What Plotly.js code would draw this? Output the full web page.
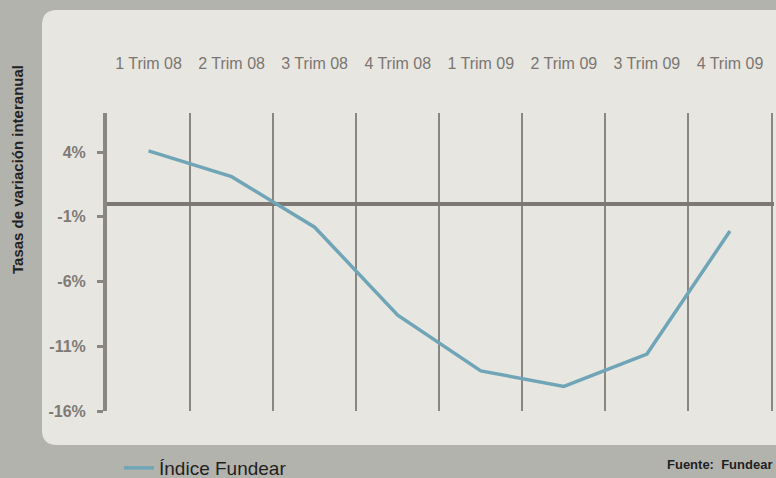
<!DOCTYPE html>
<html>
<head>
<meta charset="utf-8">
<script src="https://cdn.plot.ly/plotly-3.0.1.min.js"></script>
<style>html,body{margin:0;padding:0;background:#b3b3ae;}#chart{width:776px;height:478px;}</style>
</head>
<body>
<div id="chart"></div>
<script>
var quarters = ["1 Trim 08","2 Trim 08","3 Trim 08","4 Trim 08","1 Trim 09","2 Trim 09","3 Trim 09","4 Trim 09"];
var fundear = [4.1, 2.1, -1.8, -8.6, -12.9, -14.1, -11.6, -2.1];
var yTickVals = [4, -1, -6, -11, -16];
var yTickText = ["4%", "-1%", "-6%", "-11%", "-16%"];

var W = 776, H = 478;
var mL = 107, mR = 2, mT = 113, mB = 67;
var pw = W - mL - mR, ph = H - mT - mB;
function px(x){ return (x - mL) / pw; }
function py(y){ return (H - mB - y) / ph; }

// rounded panel path (pixel -> paper)
var L = 42, T = 10, R = 820, B = 445, r = 15;
var panel = "M " + px(L + r) + "," + py(T) +
  " L " + px(R) + "," + py(T) +
  " L " + px(R) + "," + py(B) +
  " L " + px(L + r) + "," + py(B) +
  " Q " + px(L) + "," + py(B) + " " + px(L) + "," + py(B - r) +
  " L " + px(L) + "," + py(T + r) +
  " Q " + px(L) + "," + py(T) + " " + px(L + r) + "," + py(T) + " Z";

var trace = {
  x: quarters, y: fundear, type: "scatter", mode: "lines",
  name: "Índice Fundear",
  line: {color: "#70a5b7", width: 3.5},
  hoverinfo: "x+y"
};

var layout = {
  width: W, height: H,
  margin: {l: mL, r: mR, t: mT, b: mB, pad: 0, autoexpand: false},
  paper_bgcolor: "#b3b3ae",
  plot_bgcolor: "rgba(0,0,0,0)",
  font: {family: "Arial, 'Liberation Sans', sans-serif", color: "#7a7671"},
  showlegend: true,
  legend: {
    orientation: "h", x: px(119), xanchor: "left", y: py(468), yanchor: "middle",
    font: {size: 19, color: "#1f1f1f"}, bgcolor: "rgba(0,0,0,0)"
  },
  xaxis: {
    type: "category", side: "top", tickson: "boundaries",
    showgrid: true, gridcolor: "#8a8682", gridwidth: 2,
    ticks: "", showline: false, zeroline: false,
    tickfont: {size: 16, color: "#7a7671"},
    ticklabelstandoff: 40,
    range: [-0.5, 7.53], fixedrange: true
  },
  yaxis: {
    range: [-16, 7.02], tickvals: yTickVals, ticktext: yTickText,
    showgrid: false, zeroline: true, zerolinecolor: "#7d7873", zerolinewidth: 4,
    showline: true, linecolor: "#8a8682", linewidth: 4,
    ticks: "outside", ticklen: 6, tickwidth: 3, tickcolor: "#8a8682",
    tickfont: {size: 16, color: "#7e7a76", weight: "bold"},
    ticklabelstandoff: 8,
    fixedrange: true
  },
  shapes: [{
    type: "path", xref: "paper", yref: "paper", path: panel,
    fillcolor: "#e8e6e1", line: {width: 0}, layer: "below"
  }],
  annotations: [
    {
      text: "Tasas de variación interanual", textangle: -90,
      xref: "paper", yref: "paper", x: px(17), y: py(170),
      xanchor: "center", yanchor: "middle", showarrow: false,
      font: {size: 15, color: "#222222", weight: "bold"}
    },
    {
      text: "Fuente:  Fundear",
      xref: "paper", yref: "paper", x: px(774), y: py(464),
      xanchor: "right", yanchor: "middle", showarrow: false,
      font: {size: 13, color: "#1f1f1f", weight: "bold"}
    }
  ]
};

Plotly.newPlot("chart", [trace], layout, {displayModeBar: false, staticPlot: true});
</script>
</body>
</html>
